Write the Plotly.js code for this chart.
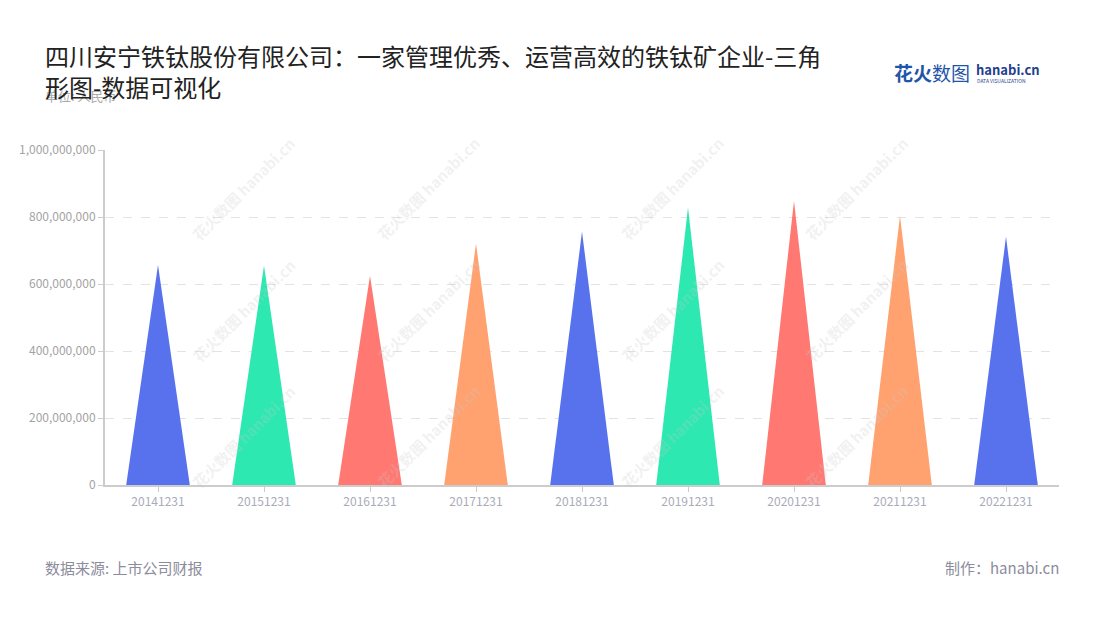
<!DOCTYPE html>
<html>
<head>
<meta charset="utf-8">
<script src="https://cdn.plot.ly/plotly-3.0.1.min.js"></script>
<style>
  html, body { margin: 0; padding: 0; background: #fff; }
  #chart { width: 1100px; height: 620px; }
</style>
</head>
<body>
<div id="chart"></div>
<script>
const dates = ["20141231", "20151231", "20161231", "20171231", "20181231",
  "20191231", "20201231", "20211231", "20221231"];
const values = [657000000, 655000000, 625000000, 721000000, 756000000,
  828000000, 848000000, 804000000, 741000000];
const colors = ["#5872ee", "#2ee8b2", "#ff7872", "#ffa270"];

const FONT = "'Noto Sans CJK SC', 'Noto Sans', sans-serif";
const half = 0.3;

const traces = values.map((v, i) => ({
  x: [i - half, i, i + half, i - half],
  y: [0, v, 0, 0],
  type: "scatter",
  mode: "lines",
  fill: "toself",
  fillcolor: colors[i % colors.length],
  line: { width: 0, color: colors[i % colors.length] },
  name: dates[i],
  hoverinfo: "text",
  text: dates[i] + ": " + v.toLocaleString(),
  showlegend: false,
}));

// faint watermark grid
const wmX = [185, 428, 672, 915];
const wmY = [130, 310, 495];
const watermarks = [];
wmY.forEach((py) => {
  wmX.forEach((px) => {
    watermarks.push({
      xref: "paper", yref: "paper",
      x: (px - 105) / 954, y: (485 - py) / 335,
      text: "<b>花火数图</b> <b>hanabi.cn</b>",
      showarrow: false,
      textangle: -45,
      font: { family: FONT, size: 15, color: "rgba(200,200,200,0.25)" },
    });
  });
});

const layout = {
  width: 1100,
  height: 620,
  margin: { l: 105, r: 41, t: 150, b: 135 },
  paper_bgcolor: "#fff",
  plot_bgcolor: "#fff",
  font: { family: FONT },
  xaxis: {
    range: [-0.5, 8.5],
    tickvals: dates.map((d, i) => i),
    ticktext: dates,
    showgrid: false,
    zeroline: false,
    showline: true,
    linecolor: "#cccccc",
    linewidth: 2,
    ticks: "outside",
    ticklen: 5,
    tickcolor: "#cccccc",
    tickfont: { size: 12, color: "#a9abb8" },
    fixedrange: true,
  },
  yaxis: {
    range: [0, 1000000000],
    tickvals: [0, 200000000, 400000000, 600000000, 800000000, 1000000000],
    tickformat: ",d",
    showgrid: true,
    gridcolor: "#e3e3e3",
    griddash: "dash",
    gridwidth: 1,
    zeroline: false,
    showline: true,
    linecolor: "#cccccc",
    linewidth: 2,
    ticks: "outside",
    ticklen: 5,
    tickcolor: "#cccccc",
    tickfont: { size: 12, color: "#a3a3a3" },
    fixedrange: true,
  },
  annotations: watermarks.concat([
    {
      xref: "paper", yref: "paper", x: -62 / 954, y: (485 - 96) / 335,
      xanchor: "left", yanchor: "middle",
      text: "单位: 人民币", showarrow: false,
      font: { family: FONT, size: 13, color: "#aaaaaa" },
    },
    {
      xref: "paper", yref: "paper", x: -62 / 954, y: (485 - 36) / 335,
      xanchor: "left", yanchor: "top", align: "left",
      text: "四川安宁铁钛股份有限公司：一家管理优秀、运营高效的铁钛矿企业-三角<br>形图-数据可视化",
      showarrow: false,
      font: { family: FONT, size: 24, color: "#222222" },
    },
    {
      xref: "paper", yref: "paper", x: (892 - 105) / 954, y: (485 - 72) / 335,
      xanchor: "left", yanchor: "middle",
      text: "<b>花火</b>数图",
      showarrow: false,
      font: { family: FONT, size: 19, color: "#1f56a8" },
    },
    {
      xref: "paper", yref: "paper", x: (974 - 105) / 954, y: (485 - 69) / 335,
      xanchor: "left", yanchor: "middle",
      text: "<b>hanabi.cn</b>",
      showarrow: false,
      font: { family: FONT, size: 13, color: "#1f3f8f" },
    },
    {
      xref: "paper", yref: "paper", x: (975 - 105) / 954, y: (485 - 80) / 335,
      xanchor: "left", yanchor: "middle",
      text: "DATA VISUALIZATION",
      showarrow: false,
      font: { family: FONT, size: 5, color: "#1f3f8f" },
    },
    {
      xref: "paper", yref: "paper", x: -62 / 954, y: (485 - 567) / 335,
      xanchor: "left", yanchor: "middle",
      text: "数据来源: 上市公司财报", showarrow: false,
      font: { family: FONT, size: 15, color: "#8c8c9c" },
    },
    {
      xref: "paper", yref: "paper", x: (1061 - 105) / 954, y: (485 - 567) / 335,
      xanchor: "right", yanchor: "middle",
      text: "制作：hanabi.cn", showarrow: false,
      font: { family: FONT, size: 15, color: "#8c8c9c" },
    },
  ]),
};

Plotly.newPlot("chart", traces, layout, { displayModeBar: false, staticPlot: true });
</script>
</body>
</html>
